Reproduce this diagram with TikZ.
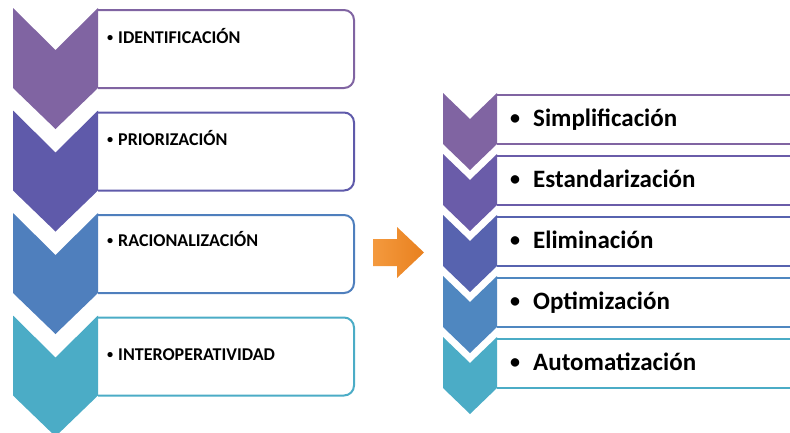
\documentclass[tikz,border=0pt]{standalone}
\usepackage{fontspec}
\usepackage{graphicx}
\setmainfont{Carlito}
\definecolor{L1}{HTML}{8064A2}
\definecolor{L2}{HTML}{5F5AAA}
\definecolor{L3}{HTML}{4F7FBD}
\definecolor{L4}{HTML}{4BACC6}
\definecolor{R1}{HTML}{8064A2}
\definecolor{R2}{HTML}{6A5CA9}
\definecolor{R3}{HTML}{5763AF}
\definecolor{R4}{HTML}{4F87C0}
\definecolor{R5}{HTML}{4BACC6}
\definecolor{arrowA}{HTML}{F49A3E}
\definecolor{arrowB}{HTML}{E8801F}
\tikzset{
  boxline/.style={line width=2pt, fill=white},
  ltext/.style={anchor=base west, inner sep=0pt, font=\fontsize{18}{20}\selectfont\bfseries},
  rtext/.style={anchor=base west, inner sep=0pt, font=\fontsize{25}{28}\selectfont\bfseries},
}
\newcommand\lbul{\makebox[11pt][l]{\raisebox{0.1em}{\scalebox{0.68}{\textbullet}}}}
\newcommand\rbul{\makebox[24pt][l]{\hspace{1pt}\raisebox{0.06em}{\scalebox{0.8}{\textbullet}}}}
% left chevron: #1 top y, #2 colour
\newcommand\lchev[2]{\fill[#2] (13,#1) -- (55.5,{#1+42}) -- (98,#1) -- (98,{#1+80}) -- (55.5,{#1+121}) -- (13,{#1+80}) -- cycle;}
\newcommand\lbox[2]{\draw[boxline,draw=#2,rounded corners=10] (98,{#1+2}) -- (354,{#1+2}) -- (354,{#1+80}) -- (98,{#1+80});}
\newcommand\rchev[2]{\fill[#2] (443,#1) -- (470,{#1+26}) -- (497,#1) -- (497,{#1+51}) -- (470,{#1+77}) -- (443,{#1+51}) -- cycle;}
\newcommand\rbox[2]{\draw[boxline,draw=#2] (497,{#1+2}) -- (800,{#1+2}) -- (800,{#1+51}) -- (497,{#1+51});}
\begin{document}
\begin{tikzpicture}[x=1pt,y=-1pt]
\useasboundingbox (0,0) rectangle (790,432);
\clip (0,0) rectangle (790,432);
% left column
\lbox{8}{L1}\lchev{8}{L1}
\lbox{110.5}{L2}\lchev{110.5}{L2}
\lbox{213}{L3}\lchev{213}{L3}
\lbox{315.5}{L4}\lchev{315.5}{L4}
\node[ltext] (t1) at (107,43) {\lbul IDENTIFICACIÓN};
\node[ltext] (t2) at (107,145) {\lbul PRIORIZACIÓN};
\node[ltext] (t3) at (107,246) {\lbul RACIONALIZACIÓN};
\node[ltext] (t4) at (107,360) {\lbul INTEROPERATIVIDAD};
% arrow
\shade[left color=arrowA,right color=arrowB] (373,239) -- (397,239) -- (397,227) -- (424,252.5) -- (397,278) -- (397,266) -- (373,266) -- cycle;
% right column
\rbox{93}{R1}\rchev{93}{R1}
\rbox{154}{R2}\rchev{154}{R2}
\rbox{215}{R3}\rchev{215}{R3}
\rbox{276}{R4}\rchev{276}{R4}
\rbox{337}{R5}\rchev{337}{R5}
\node[rtext] (s1) at (509,126) {\rbul Simplificación};
\node[rtext] (s2) at (509,187) {\rbul Estandarización};
\node[rtext] (s3) at (509,248) {\rbul Eliminación};
\node[rtext] (s4) at (509,309) {\rbul Optimización};
\node[rtext] (s5) at (509,370) {\rbul Automatización};
\end{tikzpicture}
\end{document}
